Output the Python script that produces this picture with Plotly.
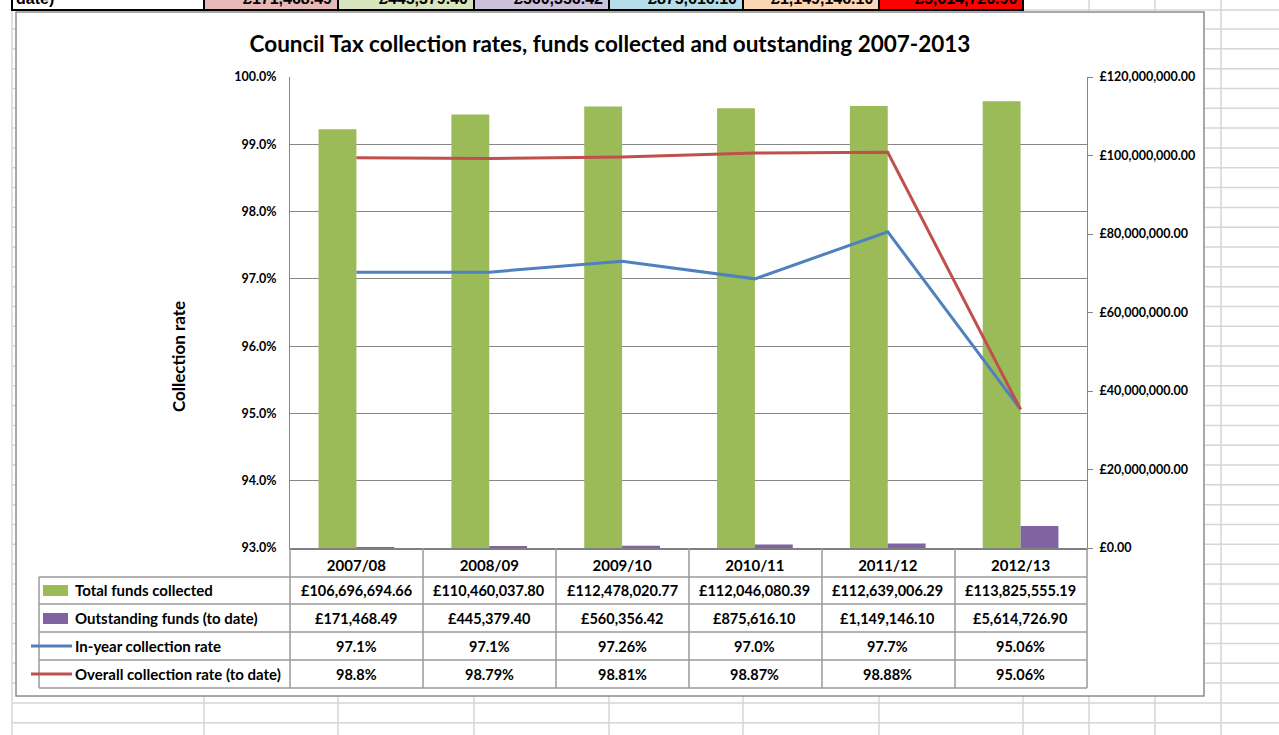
import plotly.graph_objects as go

# ---------------- data ----------------
years = ["2007/08", "2008/09", "2009/10", "2010/11", "2011/12", "2012/13"]
total_collected = [106696694.66, 110460037.80, 112478020.77, 112046080.39, 112639006.29, 113825555.19]
outstanding = [171468.49, 445379.40, 560356.42, 875616.10, 1149146.10, 5614726.90]
in_year_rate = [97.1, 97.1, 97.26, 97.0, 97.7, 95.06]
overall_rate = [98.8, 98.79, 98.81, 98.87, 98.88, 95.06]
series_names = ["Total funds collected", "Outstanding funds (to date)",
                "In-year collection rate", "Overall collection rate (to date)"]
title_text = "Council Tax collection rates, funds collected and outstanding 2007-2013"
y_title = "Collection rate"
rate_ticks = [93, 94, 95, 96, 97, 98, 99, 100]
money_ticks = [0, 20e6, 40e6, 60e6, 80e6, 100e6, 120e6]
top_row_label = "date)"

# ---------------- styling ----------------
GREEN, PURPLE, BLUE, RED = "#9BBB59", "#8064A2", "#4F81BD", "#C0504D"
FONT = "Lato"
W, H = 1279, 735
L, R, T, B = 290, 1087, 77, 548


def px(x):
    return (x - L) / (R - L)


def py(y):
    return (B - y) / (B - T)


shapes = []
annotations = []

# spreadsheet background grid
SHEET = "#d6d6d6"
row_lines = [10] + [29 + 19.82 * k for k in range(36)]
col_lines = [12, 204, 338, 474, 609, 743, 879, 1023, 1089, 1155, 1221]
for yy in row_lines:
    shapes.append(dict(type="line", xref="paper", yref="paper", x0=px(12), x1=px(W),
                       y0=py(yy), y1=py(yy), line=dict(color=SHEET, width=1.5), layer="below"))
for xx in col_lines:
    shapes.append(dict(type="line", xref="paper", yref="paper", x0=px(xx), x1=px(xx),
                       y0=py(0), y1=py(H), line=dict(color=SHEET, width=1.5), layer="below"))

# top spreadsheet row (partially visible)
cell_edges = [12, 204, 338, 474, 609, 743, 879, 1023]
cell_fills = ["#ffffff", "#e6b9b8", "#d7e4bd", "#ccc1da", "#b7dee8", "#fcd5b5", "#ff0000"]
for i, fc in enumerate(cell_fills):
    shapes.append(dict(type="rect", xref="paper", yref="paper", x0=px(cell_edges[i]), x1=px(cell_edges[i + 1]),
                       y0=py(-10), y1=py(10), fillcolor=fc, line=dict(color="black", width=2), layer="below"))
TOPFONT = dict(family="Liberation Sans", size=16, color="black", weight="bold")
annotations.append(dict(xref="paper", yref="paper", x=px(14), y=py(-2), xanchor="left", yanchor="middle",
                        text=top_row_label, showarrow=False, font=TOPFONT))
for i, v in enumerate(outstanding):
    annotations.append(dict(xref="paper", yref="paper", x=px(cell_edges[i + 2] - 4), y=py(-2),
                            xanchor="right", yanchor="middle", text=f"£{v:,.2f}", showarrow=False,
                            font=TOPFONT))

# chart area
shapes.append(dict(type="rect", xref="paper", yref="paper", x0=px(16), x1=px(1204), y0=py(12), y1=py(696),
                   fillcolor="white", line=dict(color="#8c8c8c", width=1.5), layer="below"))

# data table lines
TBL = "#9a9a9a"
col_x = [290, 423, 556, 689, 822, 955, 1087]
for xx in col_x:
    shapes.append(dict(type="line", xref="paper", yref="paper", x0=px(xx), x1=px(xx), y0=py(548), y1=py(688),
                       line=dict(color=TBL, width=1.5)))
shapes.append(dict(type="line", xref="paper", yref="paper", x0=px(39), x1=px(39), y0=py(577), y1=py(688),
                   line=dict(color=TBL, width=1.5)))
for yy in [577, 604, 632, 660, 688]:
    shapes.append(dict(type="line", xref="paper", yref="paper", x0=px(39), x1=px(1087), y0=py(yy), y1=py(yy),
                       line=dict(color=TBL, width=1.5)))

row_centers = [590, 618, 646, 674]
# legend keys
shapes.append(dict(type="rect", xref="paper", yref="paper", x0=px(43), x1=px(68), y0=py(585), y1=py(596),
                   fillcolor=GREEN, line=dict(width=0)))
shapes.append(dict(type="rect", xref="paper", yref="paper", x0=px(43), x1=px(68), y0=py(613), y1=py(624),
                   fillcolor=PURPLE, line=dict(width=0)))
shapes.append(dict(type="line", xref="paper", yref="paper", x0=px(31), x1=px(72), y0=py(646), y1=py(646),
                   line=dict(color=BLUE, width=3)))
shapes.append(dict(type="line", xref="paper", yref="paper", x0=px(31), x1=px(72), y0=py(674), y1=py(674),
                   line=dict(color=RED, width=3)))

LFONT = dict(family=FONT, size=15, color="black", weight="bold")
VFONT = dict(family=FONT, size=14.5, color="black", weight="bold")
for name, yc in zip(series_names, row_centers):
    annotations.append(dict(xref="paper", yref="paper", x=px(73), y=py(yc), xanchor="left", yanchor="middle",
                            text=name, showarrow=False, font=LFONT))

rows = [[f"£{v:,.2f}" for v in total_collected],
        [f"£{v:,.2f}" for v in outstanding],
        [f"{v}%" for v in in_year_rate],
        [f"{v}%" for v in overall_rate]]
for vals, yc in zip(rows, row_centers):
    for yr, txt in zip(years, vals):
        annotations.append(dict(xref="x", yref="paper", x=yr, y=py(yc), xanchor="center", yanchor="middle",
                                text=txt, showarrow=False, font=VFONT))

# y axis title
annotations.append(dict(xref="paper", yref="paper", x=px(178), y=py(357), xanchor="center", yanchor="middle",
                        text=y_title, textangle=-90, showarrow=False,
                        font=dict(family=FONT, size=17, color="black", weight="bold")))

fig = go.Figure()
fig.add_trace(go.Bar(x=years, y=total_collected, name=series_names[0], marker=dict(color=GREEN, line=dict(width=0)),
                     yaxis="y"))
fig.add_trace(go.Bar(x=years, y=outstanding, name=series_names[1], marker=dict(color=PURPLE, line=dict(width=0)),
                     yaxis="y"))
fig.add_trace(go.Scatter(x=years, y=in_year_rate, name=series_names[2], mode="lines",
                         line=dict(color=BLUE, width=3), yaxis="y2"))
fig.add_trace(go.Scatter(x=years, y=overall_rate, name=series_names[3], mode="lines",
                         line=dict(color=RED, width=3), yaxis="y2"))

TICKFONT = dict(family=FONT, size=12.5, color="black", weight="bold")
fig.update_layout(
    width=W, height=H,
    margin=dict(l=L, r=W - R, t=T, b=H - B, pad=0),
    paper_bgcolor="white", plot_bgcolor="white",
    showlegend=False,
    barmode="group", bargap=0.43, bargroupgap=0,
    title=dict(text=title_text, x=610 / W, xanchor="center", y=1 - 44 / H, yanchor="middle",
               font=dict(family=FONT, size=22.5, color="black", weight="bold")),
    xaxis=dict(type="category", range=[-0.5, 5.5], showline=True, linecolor="#7f7f7f", linewidth=2,
               ticks="", showgrid=False, tickfont=dict(family=FONT, size=15, color="black", weight="bold"),
               ticklabelstandoff=3),
    yaxis=dict(side="right", range=[0, 120e6], tickmode="array", tickvals=money_ticks,
               ticktext=[f"£{v:,.2f}" for v in money_ticks],
               showgrid=False, zeroline=False, showline=True, linecolor="#868686", linewidth=1,
               ticks="outside", ticklen=5, tickcolor="#868686", tickfont=TICKFONT, ticklabelstandoff=4),
    yaxis2=dict(side="left", overlaying="y", range=[93, 100], tickmode="array", tickvals=rate_ticks,
                ticktext=[f"{v:.1f}%" for v in rate_ticks], showgrid=True, gridcolor="#868686", gridwidth=1,
                zeroline=False, showline=True, linecolor="#868686", linewidth=1, ticks="", tickfont=TICKFONT,
                ticklabelstandoff=10),
    shapes=shapes, annotations=annotations,
)

fig.write_html("out.html")
